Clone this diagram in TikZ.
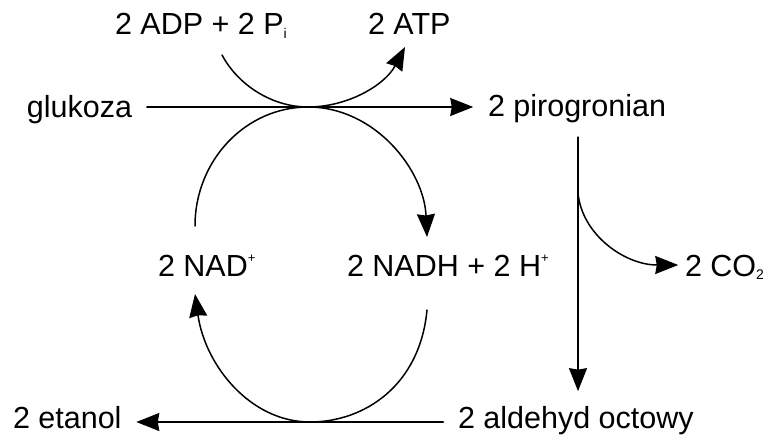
\documentclass[tikz,border=0pt]{standalone}
\usepackage{fontspec}
\setmainfont{Liberation Sans}
\usetikzlibrary{arrows.meta}

% small indices
\newcommand{\subtxt}[1]{\raisebox{-3pt}{\fontsize{14}{14}\selectfont #1}}
\newcommand{\suptxt}[1]{\raisebox{14pt}{\fontsize{13}{13}\selectfont #1}}

\begin{document}
\begin{tikzpicture}[x=1pt, y=-1pt, >={Stealth[length=23pt,width=18pt,inset=1.5pt]},
  line width=1.5pt, line cap=round, line join=round,
  chem/.style={anchor=text, inner sep=14pt, font=\fontsize{30.5}{36}\selectfont}]

\useasboundingbox (0,0) rectangle (765,436);

% --- Compounds ---
\node[chem] (adp)   at (115,35)  {2 ADP + 2 P\subtxt{i}};
\node[chem] (atp)   at (368,35)  {2 ATP};
\node[chem] (gluk)  at (27,117)  {glukoza};
\node[chem] (pirog) at (488,116) {2 pirogronian};
\node[chem] (nad)   at (158,276) {2 NAD\suptxt{+}};
\node[chem] (nadh)  at (347,276) {2 NADH + 2 H\suptxt{+}};
\node[chem] (co2)   at (685,276) {2 CO\subtxt{2}};
\node[chem] (etan)  at (13,428)  {2 etanol};
\node[chem] (ald)   at (458,428) {2 aldehyd octowy};

% --- Points on the paths ---
\coordinate (top)   at (308,107);  % upper touch point
\coordinate (bot)   at (310,422);  % lower touch point
\coordinate (adpin) at (222,55);
\coordinate (atpout) at (405,47);
\coordinate (nadin) at (195,226);
\coordinate (nadhout) at (427,237);
\coordinate (nadhin) at (427,310);
\coordinate (nadout) at (195,294);
\coordinate (split) at (578,193);

% --- Glycolysis ---
\draw[->] (gluk.east |- top) -- (pirog.west |- top);
\draw (adpin) .. controls (238,85) and (272,107) .. (top);
\draw[->] (top) .. controls (348,107) and (385,85) .. (atpout);
\draw[->] (nadin) .. controls (195,160) and (246,107) .. (top)
  .. controls (375,107) and (424,170) .. (nadhout);

% --- Decarboxylation ---
\draw[->] (pirog.south -| split) -- (ald.north -| split);
\draw[->] (split) .. controls (582,235) and (625,265) .. ([xshift=8pt,yshift=11pt]co2.base west);

% --- Reduction ---
\draw[->] (ald.west |- bot) -- (etan.east |- bot);
\draw[->] (nadhin) .. controls (420,385) and (365,422) .. (bot)
  .. controls (250,422) and (205,365) .. (nadout);

\end{tikzpicture}
\end{document}
